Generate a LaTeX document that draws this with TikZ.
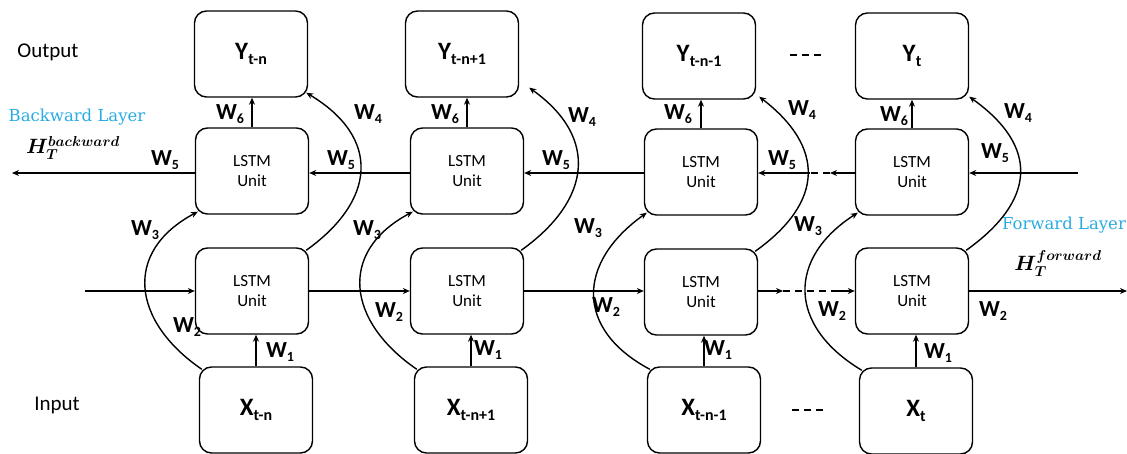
\documentclass[tikz,border=0pt]{standalone}
\usepackage{fontspec}
\setmainfont{Carlito}
\newfontfamily\serifl{DejaVu Serif}
\usepackage{amsmath,bm}
\usetikzlibrary{arrows.meta}
\definecolor{layerblue}{RGB}{41,171,226}
\newcommand\wlab[1]{\fontsize{23}{23}\selectfont\textbf{W}\raisebox{-0.35ex}{\fontsize{14}{14}\selectfont\textbf{#1}}}
\newcommand\vlab[2]{\fontsize{25}{25}\selectfont\textbf{#1}\raisebox{-0.4ex}{\fontsize{16}{16}\selectfont\textbf{#2}}}
\tikzset{
  box/.style={draw, line width=1.4pt, rounded corners=12pt, minimum width=113pt, minimum height=86pt, inner sep=0pt},
  lstm/.style={box, align=center, font=\fontsize{17}{20}\selectfont},
  con/.style={line width=1.4pt, -{Stealth[length=7pt,width=6pt]}},
  dsh/.style={line width=1.4pt, dash pattern=on 7pt off 5pt},
  wl/.style={inner sep=0pt},
  side/.style={inner sep=0pt, font=\fontsize{21}{21}\selectfont},
  layer/.style={inner sep=0pt, text=layerblue, font=\serifl\fontsize{16.5}{16.5}\selectfont},
  hlab/.style={inner sep=0pt, font=\fontsize{20}{20}\selectfont},
}
\begin{document}
\begin{tikzpicture}[x=1pt,y=-1pt]
\useasboundingbox (0,0) rectangle (1127,454);
% output boxes
\node[box] (y1) at (251,54) {\vlab{Y}{t-n}};
\node[box] (y2) at (462,54) {\vlab{Y}{t-n+1}};
\node[box] (y3) at (699,56) {\vlab{Y}{t-n-1}};
\node[box] (y4) at (912,56) {\vlab{Y}{t}};
% backward LSTM
\node[lstm] (b1) at (252,171) {LSTM\\Unit};
\node[lstm] (b2) at (467,171) {LSTM\\Unit};
\node[lstm] (b3) at (701,172) {LSTM\\Unit};
\node[lstm] (b4) at (912,172) {LSTM\\Unit};
% forward LSTM
\node[lstm] (f1) at (252,291) {LSTM\\Unit};
\node[lstm] (f2) at (467,291) {LSTM\\Unit};
\node[lstm] (f3) at (701,292) {LSTM\\Unit};
\node[lstm] (f4) at (912,291) {LSTM\\Unit};
% inputs
\node[box] (x1) at (256,410) {\vlab{X}{t-n}};
\node[box] (x2) at (471,410) {\vlab{X}{t-n+1}};
\node[box] (x3) at (704,410) {\vlab{X}{t-n-1}};
\node[box] (x4) at (916,411) {\vlab{X}{t}};

% side texts
\node[side] (out) at (48,52) {Output};
\node[side] (inp) at (57,405) {Input};
\node[layer] (bl) at (77,117) {Backward Layer};
\node[layer] (fl) at (1064,225) {Forward Layer};
\node[hlab] (hb) at (73,148) {$\bm{H_T^{backward}}$};
\node[hlab] (hf) at (1058,264) {$\bm{H_T^{forward}}$};

% coordinates for free ends
\coordinate (bin) at (1078,173);
\coordinate (bout) at (12,173);
\coordinate (fin) at (85,291);
\coordinate (fout) at (1127,291);
\coordinate (bmid) at (830,173);
\coordinate (fmid) at (783,291);
\coordinate (dt1) at (790,55);
\coordinate (dt2) at (825,55);
\coordinate (db1) at (792,410);
\coordinate (db2) at (827,410);

% backward chain
\draw[con] (bin) -- (bin -| b4.east);
\draw[con] (b4.west |- bmid) -- (bmid);
\draw[dsh] (bmid) -- (b3.east |- bmid);
\draw[con] (bmid) ++(-20,0) -- (b3.east |- bmid);
\draw[con] (b3.west |- bmid) -- (b2.east |- bmid);
\draw[con] (b2.west |- bmid) -- (b1.east |- bmid);
\draw[con] (b1.west |- bmid) -- (bout);

% forward chain
\draw[con] (fin) -- (f1.west);
\draw[con] (f1.east) -- (f2.west);
\draw[con] (f2.east) -- (f3.west |- f2.east);
\draw[con] (f3.east |- fmid) -- (fmid);
\draw[dsh] (fmid) -- (f4.west |- fmid);
\draw[con] (f4.west |- fmid) ++(-20,0) -- (f4.west |- fmid);
\draw[con] (f4.east |- fmid) -- (fout);

% dots
\draw[dsh] (dt1) -- (dt2);
\draw[dsh] (db1) -- (db2);

% vertical W6 and W1
\foreach \i in {1,2,3,4}{
  \draw[con] (b\i.north) -- (b\i.north |- y\i.south);
  \draw[con] (x\i.north) -- (x\i.north |- f\i.south);
}

% W3 curves
\draw[con] ([shift={(3,3)}]x1.north west) .. controls +(-70,-48) and +(-75,40) .. ([shift={(3,-3)}]b1.south west);
\draw[con] ([shift={(3,3)}]x2.north west) .. controls +(-70,-48) and +(-75,40) .. ([shift={(3,-3)}]b2.south west);
\draw[con] ([shift={(3,3)}]x3.north west) .. controls +(-75,-40) and +(-70,50) .. ([shift={(3,-3)}]b3.south west);
\draw[con] ([shift={(3,3)}]x4.north west) .. controls +(-75,-45) and +(-70,45) .. ([shift={(3,-3)}]b4.south west);

% W4 curves
\draw[con] ([shift={(-3,3)}]f1.north east) .. controls +(70,-50) and +(75,45) .. ([shift={(-2,-5)}]y1.south east);
\draw[con] ([shift={(-3,3)}]f2.north east) .. controls +(70,-50) and +(70,50) .. ([shift={(10,-10)}]y2.south east);
\draw[con] ([shift={(-3,3)}]f3.north east) .. controls +(70,-50) and +(65,50) .. ([shift={(3,-3)}]y3.south east);
\draw[con] ([shift={(-3,3)}]f4.north east) .. controls +(70,-50) and +(70,50) .. ([shift={(0,-3)}]y4.south east);

% W labels
\node[wl] (w6a) at (230,114) {\wlab{6}};
\node[wl] (w6b) at (445,114) {\wlab{6}};
\node[wl] (w6c) at (678,114) {\wlab{6}};
\node[wl] (w6d) at (894,116) {\wlab{6}};
\node[wl] (w5a) at (165,160) {\wlab{5}};
\node[wl] (w5b) at (341,160) {\wlab{5}};
\node[wl] (w5c) at (556,160) {\wlab{5}};
\node[wl] (w5d) at (782,160) {\wlab{5}};
\node[wl] (w5e) at (995,153) {\wlab{5}};
\node[wl] (w4a) at (368,114) {\wlab{4}};
\node[wl] (w4b) at (582,117) {\wlab{4}};
\node[wl] (w4c) at (802,110) {\wlab{4}};
\node[wl] (w4d) at (1018,113) {\wlab{4}};
\node[wl] (w3a) at (145,230) {\wlab{3}};
\node[wl] (w3b) at (367,230) {\wlab{3}};
\node[wl] (w3c) at (588,228) {\wlab{3}};
\node[wl] (w3d) at (808,226) {\wlab{3}};
\node[wl] (w2a) at (187,327) {\wlab{2}};
\node[wl] (w2b) at (389,312) {\wlab{2}};
\node[wl] (w2c) at (606,307) {\wlab{2}};
\node[wl] (w2d) at (832,311) {\wlab{2}};
\node[wl] (w2e) at (993,311) {\wlab{2}};
\node[wl] (w1a) at (280,352) {\wlab{1}};
\node[wl] (w1b) at (488,350) {\wlab{1}};
\node[wl] (w1c) at (718,350) {\wlab{1}};
\node[wl] (w1d) at (938,353) {\wlab{1}};
\end{tikzpicture}
\end{document}
